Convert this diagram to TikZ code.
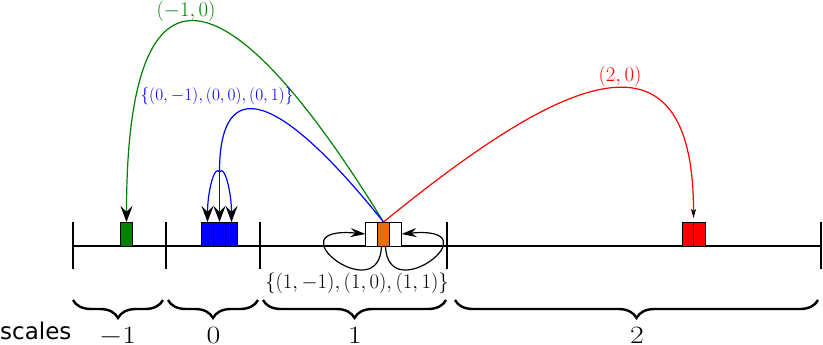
\documentclass[tikz,border=0pt]{standalone}
\usepackage{fontspec}
\newfontfamily\scalesfont{DejaVu Sans}
\usetikzlibrary{arrows.meta,decorations.pathreplacing}
\definecolor{mygreen}{RGB}{0,128,0}
\definecolor{myblue}{RGB}{0,0,255}
\definecolor{myorange}{RGB}{230,110,0}
\definecolor{myred}{RGB}{255,0,0}
\begin{document}
\begin{tikzpicture}[x=1pt,y=-1pt,
  cell/.style={draw=black, line width=1pt, inner sep=0pt, outer sep=0pt, minimum height=24pt, anchor=south west},
  arcline/.style={line width=1.2pt},
  bigtip/.style={-{Stealth[length=16pt,width=12pt,inset=6pt,color=black]}},
  looptip/.style={-{Stealth[length=15pt,width=9pt,inset=5pt,color=black]}},
  smalltip/.style={-{Stealth[length=9pt,width=5pt,inset=2pt,color=black]}},
  bracestyle/.style={decorate, decoration={brace,mirror,amplitude=18pt}, line width=2.4pt},
  lab/.style={font=\fontsize{20}{20}\selectfont},
  scalelab/.style={font=\fontsize{24}{24}\selectfont, anchor=base, inner sep=0pt}
]
\useasboundingbox (0,0) rectangle (823,345);

% axis and ticks
\draw[line width=1.3pt] (73,246) -- (821,246);
\foreach \x in {73,166,260,447,821} \draw[line width=1.8pt] (\x,222) -- (\x,269);

% cells
\node[cell, fill=mygreen, minimum width=12pt] (g) at (120.5,246) {};
\node[cell, fill=myblue, minimum width=12pt] (b1) at (201.5,246) {};
\node[cell, fill=myblue, minimum width=12pt] (b2) at (213.5,246) {};
\node[cell, fill=myblue, minimum width=12pt] (b3) at (225.5,246) {};
\node[cell, fill=white, minimum width=12pt] (w1) at (365.5,246) {};
\node[cell, fill=myorange, minimum width=12pt] (o) at (377.5,246) {};
\node[cell, fill=white, minimum width=12pt] (w2) at (389.5,246) {};
\node[cell, fill=myred, minimum width=11.5pt] (r1) at (682,246) {};
\node[cell, fill=myred, minimum width=11.5pt] (r2) at (693.5,246) {};

% arcs
\draw[arcline, mygreen, bigtip] (o.north) .. controls +(-164,-267) and +(0,-267) .. (g.north);
\coordinate (J) at (219.5,172);
\draw[arcline, myblue] (o.north) .. controls +(-118,-147) and +(0,-87) .. (J);
\draw[arcline, myblue, bigtip] (J) .. controls +(-5,-8) and +(0,-30) .. (b1.north);
\draw[arcline, myblue, bigtip] (J) -- (b2.north);
\draw[arcline, myblue, bigtip] (J) .. controls +(5,-8) and +(0,-30) .. (b3.north);
\draw[arcline, myred, smalltip, shorten >=4pt] (o.north) .. controls +(155,-126) and +(0,-222) .. (r1.north east);

% self loops
\draw[line width=1.2pt, looptip] ([xshift=-2pt]o.south) .. controls +(-2,64) and +(-95,-9) .. (w1.west);
\draw[line width=1.2pt, looptip] ([xshift=2pt]o.south) .. controls +(2,64) and +(95,-9) .. (w2.east);

% labels
\node[lab, text=mygreen] (lg) at (186,11.5) {$(-1,0)$};
\node[text=myblue, font=\fontsize{16.4}{16}\selectfont] (lb) at (217,96) {$\{(0,-1),(0,0),(0,1)\}$};
\node[text=myred, font=\fontsize{21}{21}\selectfont] (lr) at (620,76) {$(2,0)$};
\node[lab] (lo) at (357,283) {$\{(1,-1),(1,0),(1,1)\}$};

% braces
\draw[bracestyle] (73,300) -- (163,300);
\draw[bracestyle] (168,300) -- (258,300);
\draw[bracestyle] (263,300) -- (446,300);
\draw[bracestyle] (455,300) -- (818,300);

\node[font=\scalesfont\fontsize{23}{23}\selectfont, anchor=base west, inner sep=0pt] (sc) at (0,339) {scales};
\node[scalelab] (s1) at (117.5,343) {\scalebox{1.2}[1]{$-1$}};
\node[scalelab] (s2) at (213.5,343) {\scalebox{1.2}[1]{$0$}};
\node[scalelab] (s3) at (355,343) {\scalebox{1.2}[1]{$1$}};
\node[scalelab] (s4) at (637,343) {\scalebox{1.2}[1]{$2$}};
\end{tikzpicture}
\end{document}
